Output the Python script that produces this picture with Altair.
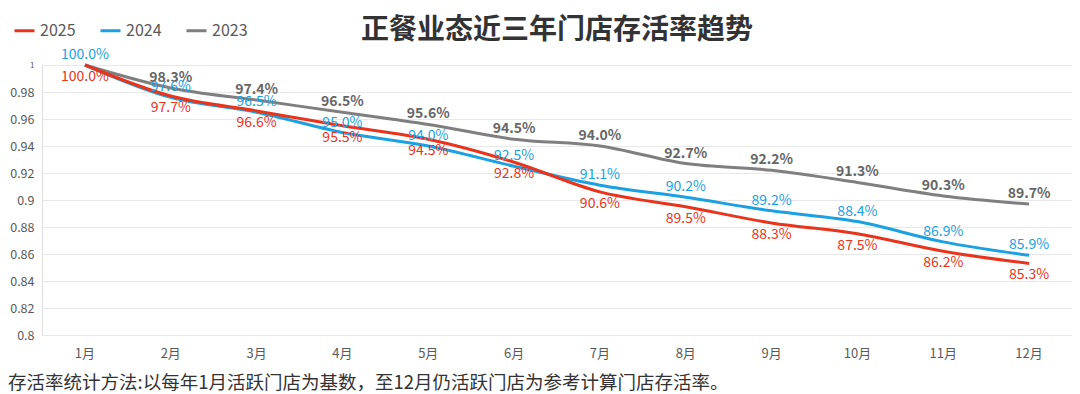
import altair as alt
import pandas as pd

months = ["1月", "2月", "3月", "4月", "5月", "6月", "7月", "8月", "9月", "10月", "11月", "12月"]
series_names = ["2025", "2024", "2023"]
v2025 = [1.000, 0.977, 0.966, 0.955, 0.945, 0.928, 0.906, 0.895, 0.883, 0.875, 0.862, 0.853]
v2024 = [1.000, 0.976, 0.965, 0.950, 0.940, 0.925, 0.911, 0.902, 0.892, 0.884, 0.869, 0.859]
v2023 = [1.000, 0.983, 0.974, 0.965, 0.956, 0.945, 0.940, 0.927, 0.922, 0.913, 0.903, 0.897]
label2023 = [False] + [True] * 11
colors = ["#E8341C", "#1BA1E2", "#7F7F7F"]
y_ticks = [0.8, 0.82, 0.84, 0.86, 0.88, 0.9, 0.92, 0.94, 0.96, 0.98, 1.0]

title_text = "正餐业态近三年门店存活率趋势"
note_text = "存活率统计方法:以每年1月活跃门店为基数，至12月仍活跃门店为参考计算门店存活率。"

rows = []
for name, vals in zip(series_names, [v2025, v2024, v2023]):
    for i, (m, v) in enumerate(zip(months, vals)):
        show = label2023[i] if name == "2023" else True
        rows.append({"month": m, "series": name, "value": v, "show": show})
df = pd.DataFrame(rows)

FONT = "Noto Sans CJK SC"
W, H = 1030, 270
LEFT = 34

x_axis = alt.Axis(labelAngle=0, labelFontSize=13, labelColor="#595959",
                  labelPadding=12, ticks=False, domain=False, grid=False,
                  labelFont=FONT)
y_axis = alt.Axis(values=y_ticks, labelOverlap=False, labelBound=False,
                  format="~g", labelFontSize={"expr": "datum.value == 1 ? 8 : 12.5"},
                  labelColor="#595959", labelPadding=8, ticks=False, domain=False,
                  gridColor="#E8E8E8", gridWidth=1, labelFont=FONT)
x_scale = alt.Scale(paddingInner=0, paddingOuter=0, type="band")
y_scale = alt.Scale(domain=[0.8, 1.0], nice=False, zero=False)

x_enc = alt.X("month:N", sort=months, title=None, scale=x_scale, axis=x_axis)
y_enc = alt.Y("value:Q", title=None, scale=y_scale, axis=y_axis)

color_enc = alt.Color("series:N",
                      scale=alt.Scale(domain=series_names, range=colors),
                      legend=alt.Legend(title=None, orient="none", legendX=-29, legendY=-46,
                                        direction="horizontal", symbolType="stroke",
                                        symbolStrokeWidth=3, symbolSize=400,
                                        labelFontSize=16, labelColor="#595959",
                                        labelFont=FONT, columnPadding=18,
                                        symbolOffset=0))

line_layers = []
for name in ["2023", "2024", "2025"]:
    line_layers.append(
        alt.Chart(df[df["series"] == name]).mark_line(strokeWidth=3, interpolate="monotone").encode(
            x=x_enc, y=y_enc, color=color_enc
        )
    )

def labels(name, dy, color, weight):
    d = df[(df["series"] == name) & (df["show"])]
    return alt.Chart(d).mark_text(dy=dy, fontSize=14, color=color, font=FONT,
                                  fontWeight=weight).encode(
        x=x_enc,
        y=y_enc,
        text=alt.Text("value:Q", format=".1%"),
    )

lab2023 = labels("2023", -10, "#666666", "bold")
lab2024 = labels("2024", -10, "#1BA1E2", "normal")
lab2025 = labels("2025", 12, "#E8341C", "normal")

title = alt.Chart(pd.DataFrame({"t": [title_text]})).mark_text(
    fontSize=28, fontWeight="bold", font=FONT, color="#333333", align="center", baseline="middle"
).encode(x=alt.value(515), y=alt.value(-34), text="t:N")

note = alt.Chart(pd.DataFrame({"t": [note_text]})).mark_text(
    fontSize=18.5, font=FONT, color="#333333", align="left", baseline="middle"
).encode(x=alt.value(-LEFT), y=alt.value(318), text="t:N")

chart = alt.layer(*line_layers, lab2023, lab2024, lab2025, title, note).properties(
    width=W, height=H,
    autosize=alt.AutoSizeParams(type="none"),
    padding={"left": LEFT, "top": 57, "right": 0, "bottom": 59},
).configure_view(stroke=None).configure_axisY(labelOverlap=False).configure(background="white")

chart.save("out.html", embed_options={"renderer": "svg", "actions": False})
